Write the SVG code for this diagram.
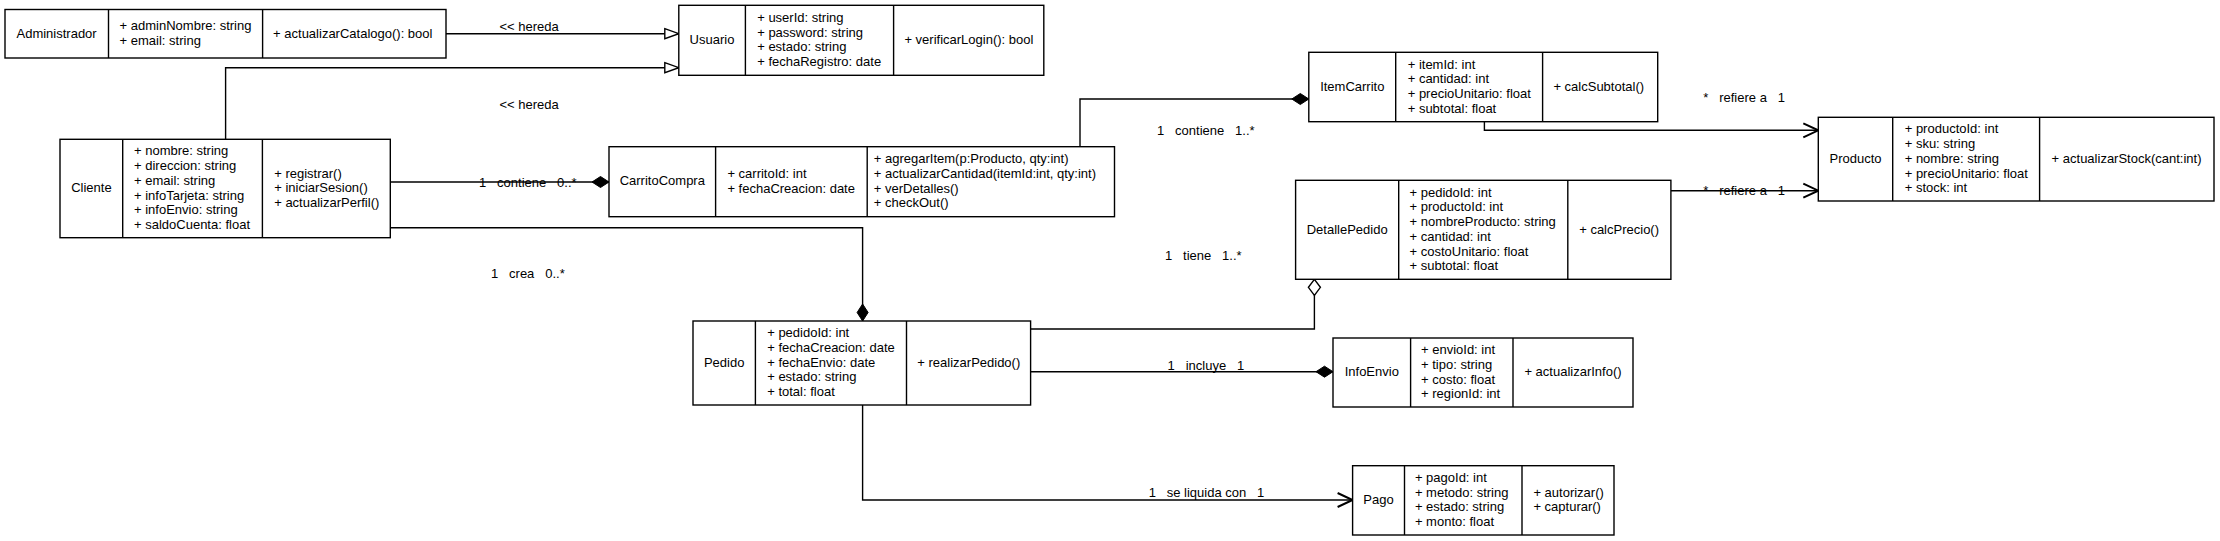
<svg xmlns="http://www.w3.org/2000/svg" width="2220" height="541" viewBox="0 0 2220 541">
<style>
  text { font-family: "Liberation Sans", Arial, Helvetica, sans-serif; font-size: 13px; fill: #000; }
  .name { text-anchor: middle; }
  .box { fill: #fff; stroke: #000; stroke-width: 1.4; }
  .div { stroke: #000; stroke-width: 1.4; }
  .edge { fill: none; stroke: #000; stroke-width: 1.4; }
</style>
<defs>
  <marker id="tri" markerUnits="userSpaceOnUse" orient="auto" refX="0" refY="0" markerWidth="20" markerHeight="20" overflow="visible">
    <path d="M-14,-5 L0,0 L-14,5 Z" fill="#fff" stroke="#000" stroke-width="1.4"/>
  </marker>
  <marker id="dia" markerUnits="userSpaceOnUse" orient="auto" refX="0" refY="0" markerWidth="20" markerHeight="20" overflow="visible">
    <path d="M0,0 L-8.5,-5.5 L-17,0 L-8.5,5.5 Z" fill="#000" stroke="#000" stroke-width="1"/>
  </marker>
  <marker id="odia" markerUnits="userSpaceOnUse" orient="auto" refX="0" refY="0" markerWidth="20" markerHeight="20" overflow="visible">
    <path d="M0,0 L-8,-6 L-16,0 L-8,6 Z" fill="#fff" stroke="#000" stroke-width="1.4"/>
  </marker>
  <marker id="open" markerUnits="userSpaceOnUse" orient="auto" refX="0" refY="0" markerWidth="20" markerHeight="20" overflow="visible">
    <path d="M-15,-7 L0,0 L-15,7" fill="none" stroke="#000" stroke-width="2"/>
  </marker>
</defs>

<g id="connectors">
  <path class="edge" d="M445,33.7 L678.8,33.7" marker-end="url(#tri)"/>
  <path class="edge" d="M225.6,139.3 L225.6,67.7 L678.8,67.7" marker-end="url(#tri)"/>
  <path class="edge" d="M390.3,182 L609,182" marker-end="url(#dia)"/>
  <path class="edge" d="M1080,146.7 L1080,99 L1308.8,99" marker-end="url(#dia)"/>
  <path class="edge" d="M1484.4,121.7 L1484.4,130.3 L1818.3,130.3" marker-end="url(#open)"/>
  <path class="edge" d="M1670.9,190.7 L1818.3,190.7" marker-end="url(#open)"/>
  <path class="edge" d="M390.3,227.7 L862.6,227.7 L862.6,321" marker-end="url(#dia)"/>
  <path class="edge" d="M1030.6,329 L1314.4,329 L1314.4,279.3" marker-end="url(#odia)"/>
  <path class="edge" d="M1030.6,371.7 L1333,371.7" marker-end="url(#dia)"/>
  <path class="edge" d="M862.6,405 L862.6,500 L1352.6,500" marker-end="url(#open)"/>
  <g id="edge-labels">
    <text x="499.4" y="30.5">&lt;&lt; hereda</text>
    <text x="499.4" y="108.5">&lt;&lt; hereda</text>
    <text x="479" y="186.5" xml:space="preserve">1   contiene   0..*</text>
    <text x="1157" y="134.5" xml:space="preserve">1   contiene   1..*</text>
    <text x="1703.3" y="101.5" xml:space="preserve">*   refiere a   1</text>
    <text x="1703.3" y="195.2" xml:space="preserve">*   refiere a   1</text>
    <text x="491" y="277.8" xml:space="preserve">1   crea   0..*</text>
    <text x="1165" y="260" xml:space="preserve">1   tiene   1..*</text>
    <text x="1167.6" y="369.5" xml:space="preserve">1   incluye   1</text>
    <text x="1148.7" y="497.2" xml:space="preserve">1   se liquida con   1</text>
  </g>
</g>

<g id="Administrador">
  <rect class="box" x="5" y="9.5" width="441" height="48.5"/>
  <line class="div" x1="108.5" y1="9.5" x2="108.5" y2="58"/>
  <line class="div" x1="262.6" y1="9.5" x2="262.6" y2="58"/>
  <text class="name" x="56.6" y="37.5">Administrador</text>
  <text x="119.6" y="30.1">+ adminNombre: string</text>
  <text x="119.6" y="44.8">+ email: string</text>
  <text x="273.1" y="37.5">+ actualizarCatalogo(): bool</text>
</g>

<g id="Usuario">
  <rect class="box" x="678.8" y="5.3" width="365" height="70"/>
  <line class="div" x1="745.4" y1="5.3" x2="745.4" y2="75.3"/>
  <line class="div" x1="893.6" y1="5.3" x2="893.6" y2="75.3"/>
  <text class="name" x="712" y="44">Usuario</text>
  <text x="757.2" y="21.95">+ userId: string</text>
  <text x="757.2" y="36.65">+ password: string</text>
  <text x="757.2" y="51.35">+ estado: string</text>
  <text x="757.2" y="66.05">+ fechaRegistro: date</text>
  <text x="904.4" y="44">+ verificarLogin(): bool</text>
</g>

<g id="Cliente">
  <rect class="box" x="60" y="139.3" width="330.3" height="98.4"/>
  <line class="div" x1="122.7" y1="139.3" x2="122.7" y2="237.7"/>
  <line class="div" x1="262.4" y1="139.3" x2="262.4" y2="237.7"/>
  <text class="name" x="91.4" y="192.2">Cliente</text>
  <text x="134" y="155.45">+ nombre: string</text>
  <text x="134" y="170.15">+ direccion: string</text>
  <text x="134" y="184.85">+ email: string</text>
  <text x="134" y="199.55">+ infoTarjeta: string</text>
  <text x="134" y="214.25">+ infoEnvio: string</text>
  <text x="134" y="228.95">+ saldoCuenta: float</text>
  <text x="274.2" y="177.5">+ registrar()</text>
  <text x="274.2" y="192.2">+ iniciarSesion()</text>
  <text x="274.2" y="206.9">+ actualizarPerfil()</text>
</g>

<g id="CarritoCompra">
  <rect class="box" x="609" y="146.7" width="505.5" height="70"/>
  <line class="div" x1="715.6" y1="146.7" x2="715.6" y2="216.7"/>
  <line class="div" x1="867.2" y1="146.7" x2="867.2" y2="216.7"/>
  <text class="name" x="662.3" y="185.4">CarritoCompra</text>
  <text x="727.4" y="178.05">+ carritoId: int</text>
  <text x="727.4" y="192.75">+ fechaCreacion: date</text>
  <text x="873.8" y="163.35">+ agregarItem(p:Producto, qty:int)</text>
  <text x="873.8" y="178.05">+ actualizarCantidad(itemId:int, qty:int)</text>
  <text x="873.8" y="192.75">+ verDetalles()</text>
  <text x="873.8" y="207.45">+ checkOut()</text>
</g>

<g id="ItemCarrito">
  <rect class="box" x="1308.8" y="52.3" width="348.9" height="69.4"/>
  <line class="div" x1="1395.7" y1="52.3" x2="1395.7" y2="121.7"/>
  <line class="div" x1="1542.6" y1="52.3" x2="1542.6" y2="121.7"/>
  <text class="name" x="1352.3" y="90.7">ItemCarrito</text>
  <text x="1407.7" y="68.65">+ itemId: int</text>
  <text x="1407.7" y="83.35">+ cantidad: int</text>
  <text x="1407.7" y="98.05">+ precioUnitario: float</text>
  <text x="1407.7" y="112.75">+ subtotal: float</text>
  <text x="1553.4" y="90.7">+ calcSubtotal()</text>
</g>

<g id="Producto">
  <rect class="box" x="1818.3" y="117.3" width="395.7" height="83.7"/>
  <line class="div" x1="1892.7" y1="117.3" x2="1892.7" y2="201"/>
  <line class="div" x1="2039.6" y1="117.3" x2="2039.6" y2="201"/>
  <text class="name" x="1855.5" y="162.85">Producto</text>
  <text x="1904.7" y="133.45">+ productoId: int</text>
  <text x="1904.7" y="148.15">+ sku: string</text>
  <text x="1904.7" y="162.85">+ nombre: string</text>
  <text x="1904.7" y="177.55">+ precioUnitario: float</text>
  <text x="1904.7" y="192.25">+ stock: int</text>
  <text x="2051.6" y="162.85">+ actualizarStock(cant:int)</text>
</g>

<g id="DetallePedido">
  <rect class="box" x="1295.6" y="180.3" width="375.3" height="99"/>
  <line class="div" x1="1398.7" y1="180.3" x2="1398.7" y2="279.3"/>
  <line class="div" x1="1567.8" y1="180.3" x2="1567.8" y2="279.3"/>
  <text class="name" x="1347.2" y="233.5">DetallePedido</text>
  <text x="1409.5" y="196.75">+ pedidoId: int</text>
  <text x="1409.5" y="211.45">+ productoId: int</text>
  <text x="1409.5" y="226.15">+ nombreProducto: string</text>
  <text x="1409.5" y="240.85">+ cantidad: int</text>
  <text x="1409.5" y="255.55">+ costoUnitario: float</text>
  <text x="1409.5" y="270.25">+ subtotal: float</text>
  <text x="1579.2" y="233.5">+ calcPrecio()</text>
</g>

<g id="Pedido">
  <rect class="box" x="693" y="321" width="337.6" height="84"/>
  <line class="div" x1="755.4" y1="321" x2="755.4" y2="405"/>
  <line class="div" x1="906.5" y1="321" x2="906.5" y2="405"/>
  <text class="name" x="724.2" y="366.7">Pedido</text>
  <text x="767.2" y="337.3">+ pedidoId: int</text>
  <text x="767.2" y="352">+ fechaCreacion: date</text>
  <text x="767.2" y="366.7">+ fechaEnvio: date</text>
  <text x="767.2" y="381.4">+ estado: string</text>
  <text x="767.2" y="396.1">+ total: float</text>
  <text x="917.3" y="366.7">+ realizarPedido()</text>
</g>

<g id="InfoEnvio">
  <rect class="box" x="1333" y="338" width="300" height="69"/>
  <line class="div" x1="1410.6" y1="338" x2="1410.6" y2="407"/>
  <line class="div" x1="1513" y1="338" x2="1513" y2="407"/>
  <text class="name" x="1371.8" y="376.2">InfoEnvio</text>
  <text x="1421" y="354.15">+ envioId: int</text>
  <text x="1421" y="368.85">+ tipo: string</text>
  <text x="1421" y="383.55">+ costo: float</text>
  <text x="1421" y="398.25">+ regionId: int</text>
  <text x="1524.4" y="376.2">+ actualizarInfo()</text>
</g>

<g id="Pago">
  <rect class="box" x="1352.6" y="465.7" width="261.4" height="69.3"/>
  <line class="div" x1="1404.5" y1="465.7" x2="1404.5" y2="535"/>
  <line class="div" x1="1522" y1="465.7" x2="1522" y2="535"/>
  <text class="name" x="1378.5" y="504.05">Pago</text>
  <text x="1414.9" y="482">+ pagoId: int</text>
  <text x="1414.9" y="496.7">+ metodo: string</text>
  <text x="1414.9" y="511.4">+ estado: string</text>
  <text x="1414.9" y="526.1">+ monto: float</text>
  <text x="1533.4" y="496.7">+ autorizar()</text>
  <text x="1533.4" y="511.4">+ capturar()</text>
</g>
</svg>
